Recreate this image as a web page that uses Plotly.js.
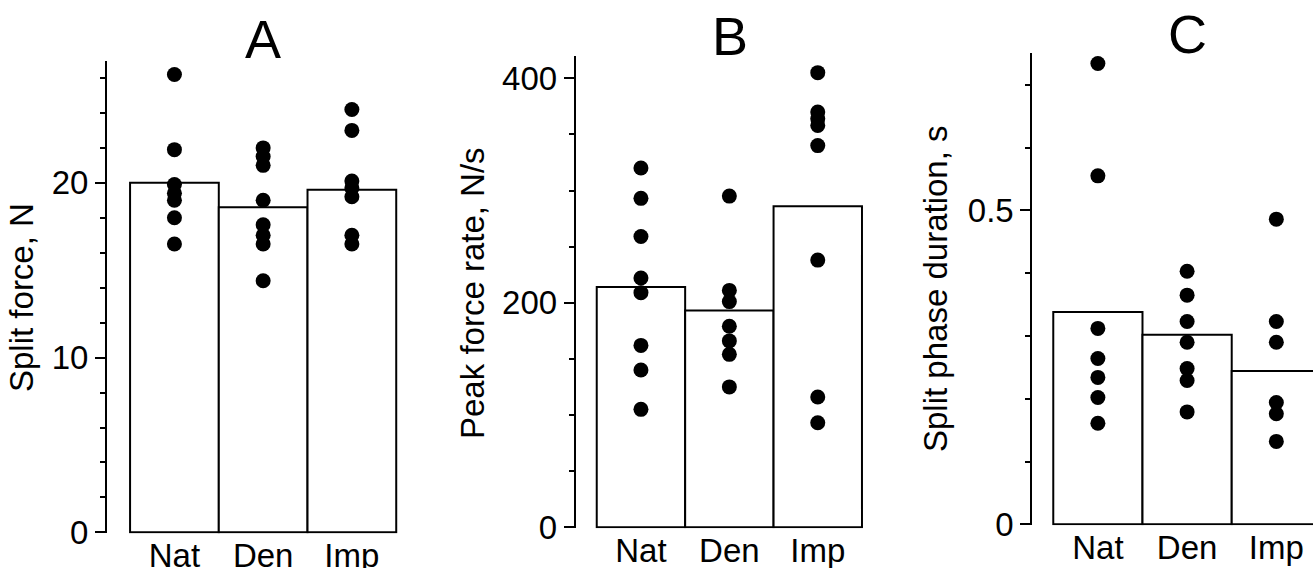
<!DOCTYPE html>
<html>
<head>
<meta charset="utf-8">
<script src="https://cdn.plot.ly/plotly-3.0.1.min.js"></script>
<style>
  html, body { margin: 0; padding: 0; overflow: hidden; background: #fff; }
  #chart { width: 1313px; height: 568px; }
</style>
</head>
<body>
<div id="chart"></div>
<script>
// Conditions shown on every panel
const categories = ['Nat', 'Den', 'Imp'];

// A: split force (N) - group means and individual values
const splitForceMean = [20.0, 18.6, 19.6];
const splitForceNat = [26.2, 21.9, 19.9, 19.4, 19.0, 18.0, 16.5];
const splitForceDen = [22.0, 21.5, 21.0, 19.0, 17.6, 17.0, 16.5, 14.4];
const splitForceImp = [24.2, 23.0, 20.1, 19.7, 19.2, 17.0, 16.5];

// B: peak force rate (N/s)
const peakRateMean = [214, 193, 286];
const peakRateNat = [320, 293, 259, 222, 209, 162, 140, 105];
const peakRateDen = [295, 211, 201, 179, 166, 154, 125];
const peakRateImp = [405, 370, 364, 358, 340, 238, 116, 93];

// C: split phase duration (s)
const splitDurMean = [0.338, 0.302, 0.244];
const splitDurNat = [0.734, 0.555, 0.312, 0.264, 0.234, 0.202, 0.161];
const splitDurDen = [0.403, 0.365, 0.323, 0.290, 0.248, 0.229, 0.179];
const splitDurImp = [0.486, 0.323, 0.290, 0.194, 0.176, 0.132];

const panelTitles = ['A', 'B', 'C'];
const axisTitles = ['Split force, N', 'Peak force rate, N/s', 'Split phase duration, s'];

const FONT = 'Liberation Sans, Arial, Helvetica, sans-serif';
const TICK_SIZE = 33;

function barTrace(means, ax) {
  return {
    type: 'bar', x: categories, y: means,
    xaxis: 'x' + ax, yaxis: 'y' + ax,
    marker: { color: '#ffffff', line: { color: '#000000', width: 2 } },
    hoverinfo: 'skip'
  };
}

function dotTrace(groups, ax) {
  const xs = [], ys = [];
  groups.forEach((vals, i) => vals.forEach(v => { xs.push(categories[i]); ys.push(v); }));
  return {
    type: 'scatter', mode: 'markers', x: xs, y: ys,
    xaxis: 'x' + ax, yaxis: 'y' + ax,
    marker: { color: '#000000', size: 15 },
    hoverinfo: 'skip'
  };
}

const data = [
  barTrace(splitForceMean, ''), dotTrace([splitForceNat, splitForceDen, splitForceImp], ''),
  barTrace(peakRateMean, '2'), dotTrace([peakRateNat, peakRateDen, peakRateImp], '2'),
  barTrace(splitDurMean, '3'), dotTrace([splitDurNat, splitDurDen, splitDurImp], '3')
];

const W = 1313, H = 568;
const px = v => v / W;
const py = v => (H - v) / H;

function xAxis(domain, range, anchor) {
  return {
    type: 'category', categoryorder: 'array', categoryarray: categories,
    domain: domain, range: range, anchor: anchor,
    showline: false, showgrid: false, zeroline: false, ticks: '',
    tickfont: { family: FONT, size: TICK_SIZE, color: '#000' },
    fixedrange: true
  };
}

function yAxis(domain, range, dtick, minorDtick, anchor) {
  return {
    domain: domain, range: range, anchor: anchor,
    showline: true, linecolor: '#000', linewidth: 2,
    showgrid: false, zeroline: false,
    ticks: 'outside', ticklen: 10, tickwidth: 2, tickcolor: '#000',
    tick0: 0, dtick: dtick,
    minor: { dtick: minorDtick, tick0: 0, ticks: 'outside', ticklen: 5, tickwidth: 2, tickcolor: '#000', showgrid: false },
    tickfont: { family: FONT, size: TICK_SIZE, color: '#000' },
    fixedrange: true
  };
}

const layout = {
  width: W, height: H,
  margin: { l: 0, r: 0, t: 0, b: 0 },
  paper_bgcolor: '#fff', plot_bgcolor: 'rgba(0,0,0,0)',
  showlegend: false, bargap: 0,
  xaxis:  xAxis([px(107), px(398)], [-0.76, 2.52], 'y'),
  yaxis:  yAxis([py(533.4), py(61.2)], [-0.06, 26.96], 10, 2, 'x'),
  xaxis2: xAxis([px(575.7), px(864)], [-0.738, 2.523], 'y2'),
  yaxis2: yAxis([py(528.3), py(56.4)], [-1, 419.5], 200, 50, 'x2'),
  xaxis3: xAxis([px(1032.3), 1], [-0.735, 2.411], 'y3'),
  yaxis3: yAxis([py(525.3), py(52.8)], [-0.0016, 0.751], 0.5, 0.1, 'x3'),
  annotations: [
    { text: panelTitles[0], x: px(263), y: py(39) },
    { text: panelTitles[1], x: px(730), y: py(36) },
    { text: panelTitles[2], x: px(1187), y: py(34) }
  ].map(a => Object.assign(a, {
    xref: 'paper', yref: 'paper', xanchor: 'center', yanchor: 'middle',
    showarrow: false, font: { family: FONT, size: 54, color: '#000' }
  })).concat([
    { text: axisTitles[0], x: px(21), y: py(298) },
    { text: axisTitles[1], x: px(472), y: py(293) },
    { text: axisTitles[2], x: px(935), y: py(289) }
  ].map(a => Object.assign(a, {
    xref: 'paper', yref: 'paper', xanchor: 'center', yanchor: 'middle',
    textangle: -90, showarrow: false, font: { family: FONT, size: 33, color: '#000' }
  })))
};

Plotly.newPlot('chart', data, layout, { staticPlot: true, displayModeBar: false });
</script>
</body>
</html>
